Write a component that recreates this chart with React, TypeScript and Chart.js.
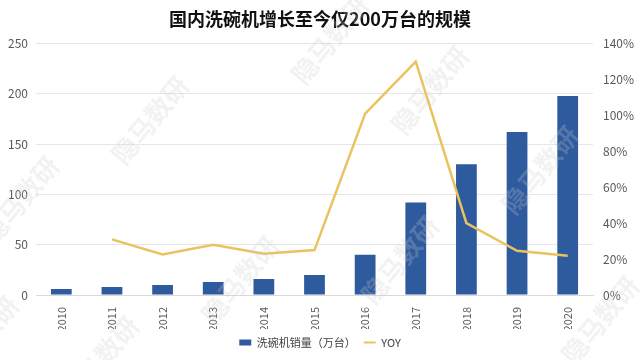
import React, { useEffect, useRef } from "react";
import { Chart, registerables } from "chart.js";

Chart.register(...registerables);

const years = ["2010", "2011", "2012", "2013", "2014", "2015", "2016", "2017", "2018", "2019", "2020"];
const sales = [6, 8, 10, 13, 16, 20, 40, 92, 130, 162, 198];
const yoy = [null, 31, 22.6, 28, 23, 25, 101, 130, 40, 24.6, 21.8];
const leftTicks = [0, 50, 100, 150, 200, 250];
const rightTicksPct = [0, 20, 40, 60, 80, 100, 120, 140];
const titleText = "国内洗碗机增长至今仅200万台的规模";
const watermark = "隐马数研";

const FONT = "'Microsoft YaHei', 'Noto Sans CJK SC', 'Open Sans', sans-serif";
const LINE_COLOR = "#EAC35F";
const BAR_COLOR = "#2E5A9E";

const watermarkPlugin = {
  id: "wm",
  beforeDraw(chart: any) {
    const ctx = chart.ctx;
    ctx.save();
    ctx.fillStyle = "#ffffff";
    ctx.fillRect(0, 0, chart.width, chart.height);
    ctx.restore();
  },
  afterDatasetsDraw(chart: any) {
    const ctx = chart.ctx;
    ctx.save();
    ctx.font = "bold 26px " + FONT;
    ctx.fillStyle = "rgba(205,205,205,0.25)";
    ctx.textAlign = "center";
    ctx.textBaseline = "middle";
    const spots = [
      [20, 200], [150, 120], [240, 280], [330, 40], [430, 90], [400, 260], [540, 170], [600, 320], [-20, 340], [100, 360],
    ];
    for (const [x, y] of spots) {
      ctx.save();
      ctx.translate(x, y);
      ctx.rotate(-Math.PI * 0.28);
      ctx.fillText(watermark, 0, 0);
      ctx.restore();
    }
    ctx.restore();
  },
};

export default function App() {
  const ref = useRef<HTMLCanvasElement>(null);
  useEffect(() => {
    if (!ref.current) return;
    const chart = new Chart(ref.current, {
      data: {
        labels: years,
        datasets: [
          {
            type: "line",
            label: "YOY",
            data: yoy,
            yAxisID: "y1",
            borderColor: LINE_COLOR,
            backgroundColor: LINE_COLOR,
            borderWidth: 2.5,
            pointRadius: 0,
            tension: 0,
            order: 0,
          },
          {
            type: "bar",
            label: "洗碗机销量（万台）",
            data: sales,
            yAxisID: "y",
            backgroundColor: BAR_COLOR,
            barPercentage: 0.41,
            categoryPercentage: 1,
            order: 1,
          },
        ],
      } as any,
      options: {
        animation: false,
        responsive: false,
        maintainAspectRatio: false,
        layout: { padding: { left: 0, right: 0, top: 0, bottom: 2 } },
        plugins: {
          title: {
            display: true,
            text: titleText,
            color: "#111111",
            font: { family: FONT, size: 18, weight: "bold" },
            padding: { top: 8, bottom: 14 },
          },
          legend: {
            position: "bottom",
            reverse: true,
            labels: {
              color: "#404040",
              font: { family: FONT, size: 11 },
              usePointStyle: true,
              pointStyleWidth: 12,
              boxHeight: 6,
              padding: 8,
              generateLabels(chart: any) {
                const items = Chart.defaults.plugins.legend.labels.generateLabels(chart);
                return items.map((it: any) => {
                  if (it.text === "YOY") {
                    return { ...it, pointStyle: "line", fillStyle: LINE_COLOR, strokeStyle: LINE_COLOR, lineWidth: 2 };
                  }
                  return { ...it, pointStyle: "rect", fillStyle: BAR_COLOR, strokeStyle: BAR_COLOR, lineWidth: 0 };
                });
              },
            },
          },
          tooltip: { enabled: false },
        },
        scales: {
          x: {
            grid: { display: false },
            border: { display: true, color: "#D9D9D9" },
            ticks: {
              color: "#595959",
              font: { family: FONT, size: 11 },
              minRotation: 90,
              maxRotation: 90,
              padding: 4,
            },
            afterFit(scale: any) {
              scale.height = 34;
            },
          },
          y: {
            position: "left",
            min: 0,
            max: 250,
            afterBuildTicks(scale: any) {
              scale.ticks = leftTicks.map((v) => ({ value: v }));
            },
            grid: { color: "#E6E6E6", drawTicks: false },
            border: { display: false },
            ticks: {
              color: "#595959",
              font: { family: FONT, size: 12 },
              padding: 8,
            },
            afterFit(scale: any) {
              scale.width = 36;
            },
          },
          y1: {
            position: "right",
            min: 0,
            max: 140,
            afterBuildTicks(scale: any) {
              scale.ticks = rightTicksPct.map((v) => ({ value: v }));
            },
            grid: { display: false, drawTicks: false },
            border: { display: false },
            ticks: {
              color: "#595959",
              font: { family: FONT, size: 12 },
              padding: 10,
              callback: (v: any) => v + "%",
            },
            afterFit(scale: any) {
              scale.width = 47;
            },
          },
        },
      } as any,
      plugins: [watermarkPlugin],
    });
    return () => chart.destroy();
  }, []);
  return (
    <div style={{ position: "fixed", left: 0, top: 0, width: 640, height: 360, background: "#fff" }}>
      <canvas ref={ref} width={640} height={360} style={{ width: 640, height: 360 }} />
    </div>
  );
}
